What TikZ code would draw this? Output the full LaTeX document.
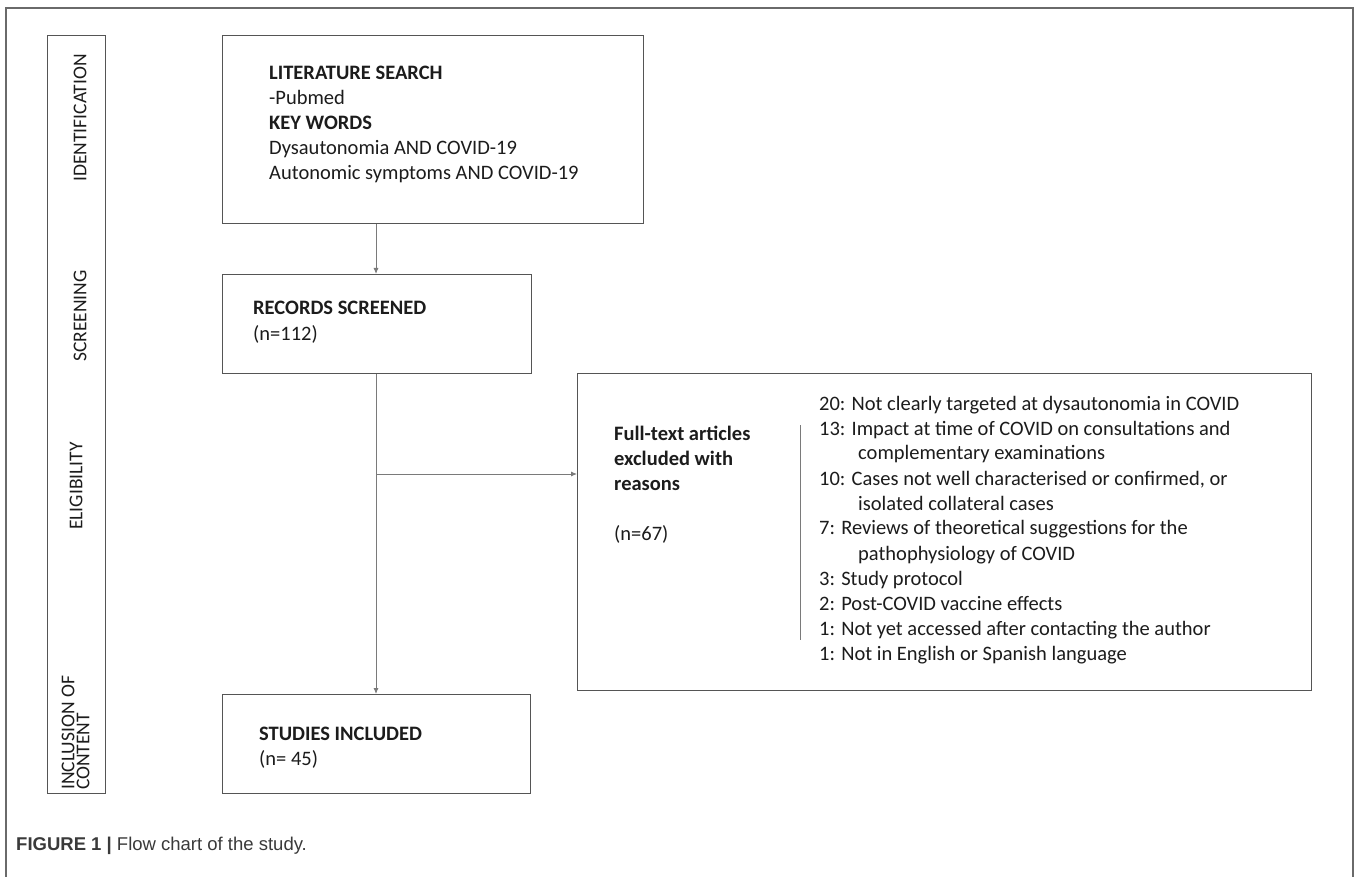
\documentclass[tikz,border=0pt]{standalone}
\usepackage{fontspec}
\setmainfont{Carlito}
\newfontfamily\capfont{Liberation Sans}
\usetikzlibrary{arrows.meta}
\definecolor{boxgray}{HTML}{555555}
\definecolor{linegray}{HTML}{7A7A7A}
\definecolor{framegray}{HTML}{6A6A6A}
\definecolor{txtcol}{HTML}{1C1C1C}
\definecolor{capcol}{HTML}{3A3A3A}
\begin{document}
\begin{tikzpicture}[x=1pt,y=-1pt,
  box/.style={draw=boxgray, line width=1.4pt, fill=white, inner sep=0pt, anchor=north west},
  conn/.style={draw=linegray, line width=0.9pt},
  arr/.style={conn, -{Latex[length=6pt,width=5pt]}},
  txt/.style={anchor=base west, inner sep=0pt, text=txtcol, font=\fontsize{20.5}{25}\selectfont},
  btxt/.style={txt, font=\fontsize{20.5}{25}\selectfont\bfseries},
  side/.style={rotate=90, inner sep=0pt, text=txtcol, font=\fontsize{19.5}{15}\selectfont},
]
\useasboundingbox (0,0) rectangle (1358,877);
\fill[white] (0,0) rectangle (1358,877);
% outer frame (open at bottom)
\draw[framegray, line width=1.2pt] (6,877) -- (6,8) -- (1353,8) -- (1353,877);

% side bar
\node[box, minimum width=58pt, minimum height=758pt] (bar) at (47,35) {};
\node[side] (sid) at (80,118) {IDENTIFICATION};
\node[side] (sscr) at (80,316) {SCREENING};
\node[side] (selig) at (76,486) {ELIGIBILITY};
\node[side, anchor=west, align=left] (sinc) at (75.5,790) {INCLUSION OF\\CONTENT};

% boxes
\node[box, minimum width=421pt, minimum height=188pt] (b1) at (222,35) {};
\node[box, minimum width=309pt, minimum height=99pt] (b2) at (222,274) {};
\node[box, minimum width=308pt, minimum height=99pt] (b3) at (222,694) {};
\node[box, minimum width=734pt, minimum height=317pt] (b4) at (577,373) {};

% box 1 text
\node[btxt] (t1a) at (269,80) {LITERATURE SEARCH};
\node[txt]  (t1b) at (269,105) {-Pubmed};
\node[btxt] (t1c) at (269,130) {KEY WORDS};
\node[txt]  (t1d) at (269,155) {Dysautonomia AND COVID-19};
\node[txt]  (t1e) at (269,180) {Autonomic symptoms AND COVID-19};

% box 2 text
\node[btxt] (t2a) at (253,315) {RECORDS SCREENED};
\node[txt]  (t2b) at (253,340.5) {(n=112)};

% box 3 text
\node[btxt] (t3a) at (259,740) {STUDIES INCLUDED};
\node[txt]  (t3b) at (259,765) {(n= 45)};

% box 4 text
\node[btxt] (t4a) at (614,440) {Full-text articles};
\node[btxt] (t4b) at (614,465) {excluded with};
\node[btxt] (t4c) at (614,490) {reasons};
\node[txt]  (t4d) at (614,540) {(n=67)};

\coordinate (dtop) at (800,425);
\coordinate (dbot) at (800,640);
\draw[conn] (dtop) -- (dbot);

\node[txt] (r1)  at (819,410) {20: Not clearly targeted at dysautonomia in COVID};
\node[txt] (r2)  at (819,435) {13: Impact at time of COVID on consultations and};
\node[txt] (r2b) at (858,459) {complementary examinations};
\node[txt] (r3)  at (819,485) {10: Cases not well characterised or confirmed, or};
\node[txt] (r3b) at (858,510) {isolated collateral cases};
\node[txt] (r4)  at (819,534) {7: Reviews of theoretical suggestions for the};
\node[txt] (r4b) at (858,560) {pathophysiology of COVID};
\node[txt] (r5)  at (819,585) {3: Study protocol};
\node[txt] (r6)  at (819,610) {2: Post-COVID vaccine effects};
\node[txt] (r7)  at (819,635) {1: Not yet accessed after contacting the author};
\node[txt] (r8)  at (819,660) {1: Not in English or Spanish language};

% connectors
\draw[arr] (b1.south -| 376,0) -- (b2.north -| 376,0);
\draw[arr] (b2.south -| 376,0) -- (b3.north -| 376,0);
\coordinate (split) at (376,474);
\draw[arr] (split) -- (split -| b4.west);

% caption
\node[anchor=base west, inner sep=0pt, text=capcol, font=\capfont\fontsize{18.5}{20}\selectfont] (cap) at (16,850)
  {\textbf{FIGURE 1 |} Flow chart of the study.};
\end{tikzpicture}
\end{document}
